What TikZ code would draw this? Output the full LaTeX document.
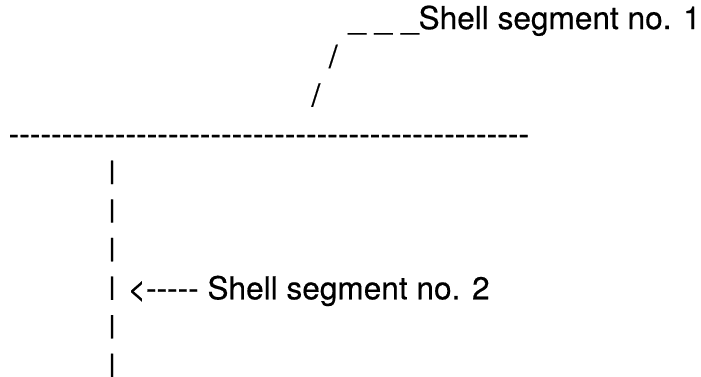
\documentclass[tikz,border=0pt]{standalone}
\usepackage{fontspec}
\usepackage{graphicx}
\newfontfamily\asc[Ligatures=TeXOff,FakeBold=0.4]{TeX Gyre Heros}
\newcommand{\pipechar}{\resizebox*{\width}{23.4pt}{|}}
\begin{document}
\begin{tikzpicture}[x=1pt,y=-1pt,
  txt/.style={anchor=base west,inner sep=0pt,outer sep=0pt,
    font=\asc\fontsize{31.6}{38}\selectfont},
  dashline/.style={txt,font=\asc\fontsize{31.9}{38}\selectfont},
  pipe/.style={anchor=south west,inner sep=0pt,outer sep=0pt,
    font=\asc\fontsize{31.6}{38}\selectfont}]
\useasboundingbox (0,0) rectangle (701,377);
\node[txt] (l1) at (348.3,29.1) {\_ \_ \_Shell segment no. 1};
\node[txt] (l2) at (328.8,67.7) {/};
\node[txt] (l3) at (311.5,106.3) {/};
\node[dashline] (l4) at (8.6,144.9) {-------------------------------------------------};
\node[pipe] (l5) at (108,184.1) {\pipechar};
\node[pipe] (l6) at (108,222.7) {\pipechar};
\node[pipe] (l7) at (108,261.3) {\pipechar};
\node[pipe] (l8) at (108,299.9) {\pipechar};
\node[txt] (l8t) at (127.6,299.3) {<----- Shell segment no. 2};
\node[pipe] (l9) at (108,338.5) {\pipechar};
\node[pipe] (l10) at (108,377) {\pipechar};
\end{tikzpicture}
\end{document}
